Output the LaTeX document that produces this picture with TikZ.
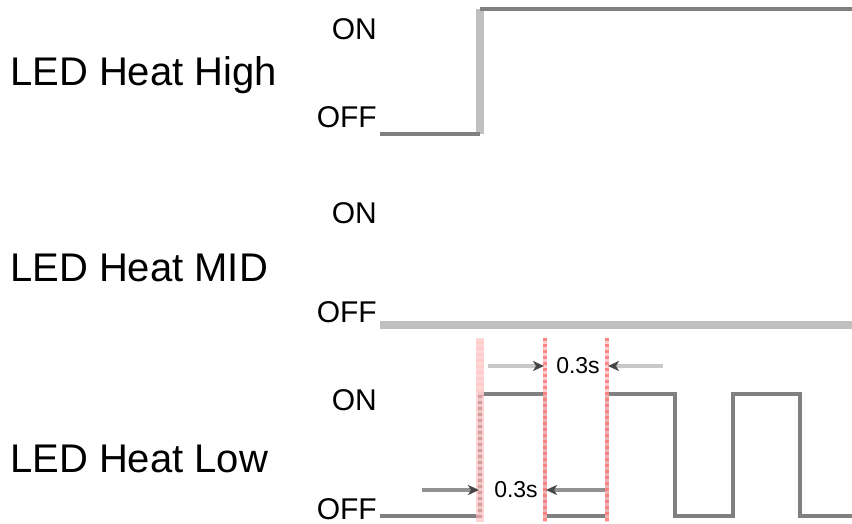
\documentclass[tikz,border=0pt]{standalone}
\usepackage{fontspec}
\setmainfont{Liberation Sans}
\usetikzlibrary{arrows.meta}
\definecolor{sig}{RGB}{128,128,128}
\definecolor{sigl}{RGB}{192,192,192}
\definecolor{shaftl}{RGB}{200,200,200}
\definecolor{shaftd}{RGB}{145,145,145}
\definecolor{tipc}{RGB}{70,70,70}
\definecolor{redd}{RGB}{255,115,115}
\definecolor{redl}{RGB}{255,195,195}
\definecolor{pinkd}{RGB}{255,175,175}
\definecolor{pinkl}{RGB}{255,220,220}
\begin{document}
\begin{tikzpicture}[x=1pt,y=-1pt,
  biglabel/.style={font=\fontsize{40}{40}\selectfont, inner sep=0pt, anchor=base west},
  statelabel/.style={font=\fontsize{30}{30}\selectfont, inner sep=0pt, anchor=east},
  dimtext/.style={font=\fontsize{23}{23}\selectfont, inner sep=0pt},
  sigline/.style={draw=sig, line width=4pt},
  siglight/.style={draw=sigl, line width=8pt},
  redbase/.style={draw=redl, line width=4pt, opacity=.8},
  reddash/.style={draw=redd, line width=4pt, dash pattern=on 3pt off 3pt, opacity=.8},
  arrowhd/.style={-{Stealth[length=11pt,width=10pt,inset=3pt,color=tipc]}},
]
\useasboundingbox (0,0) rectangle (852,524);

% labels
\node[biglabel] (lh) at (10,86) {LED Heat High};
\node[biglabel] (lm) at (10,281) {LED Heat MID};
\node[biglabel] (ll) at (10,472) {LED Heat Low};

\node[statelabel] (hon) at (377,29) {ON};
\node[statelabel] (hoff) at (377,117) {OFF};
\node[statelabel] (mon) at (377,213) {ON};
\node[statelabel] (moff) at (377,312) {OFF};
\node[statelabel] (lon) at (377,400) {ON};
\node[statelabel] (loff) at (377,509) {OFF};

% High
\draw[siglight] (480,134) -- (480,9);
\draw[sigline] (380,134) -- (480,134);
\draw[sigline] (480,9) -- (853,9);

% MID
\draw[siglight] (380,325) -- (853,325);

% Low
\draw[sigline] (380,516) -- (480,516) -- (480,394) -- (545,394) -- (545,516)
  -- (607,516) -- (607,394) -- (675,394) -- (675,516) -- (733,516)
  -- (733,394) -- (800,394) -- (800,516) -- (853,516);

% red dashed markers
\draw[draw=pinkd, line width=8pt, opacity=.65] (480,338) -- (480,522);
\draw[draw=pinkl, line width=8pt, dash pattern=on 3pt off 3pt, opacity=.7] (480,338) -- (480,522);
\foreach \xx in {545,607}{
  \draw[redbase] (\xx,338) -- (\xx,522);
  \draw[reddash] (\xx,338) -- (\xx,522);
}

% top dimension
\coordinate (ta1) at (488,366);
\coordinate (ta2) at (544,366);
\coordinate (tb1) at (663,366);
\coordinate (tb2) at (608,366);
\draw[draw=shaftl, line width=4pt, arrowhd] (ta1) -- (ta2);
\draw[draw=shaftl, line width=4pt, arrowhd] (tb1) -- (tb2);
\node[dimtext] (t1) at (578,366) {0.3s};

% bottom dimension
\coordinate (ba1) at (422,490);
\coordinate (ba2) at (479,490);
\coordinate (bb1) at (605,490);
\coordinate (bb2) at (546,490);
\draw[draw=shaftd, line width=4pt, arrowhd] (ba1) -- (ba2);
\draw[draw=shaftd, line width=4pt, arrowhd] (bb1) -- (bb2);
\node[dimtext] (t2) at (516,490) {0.3s};
\end{tikzpicture}
\end{document}
